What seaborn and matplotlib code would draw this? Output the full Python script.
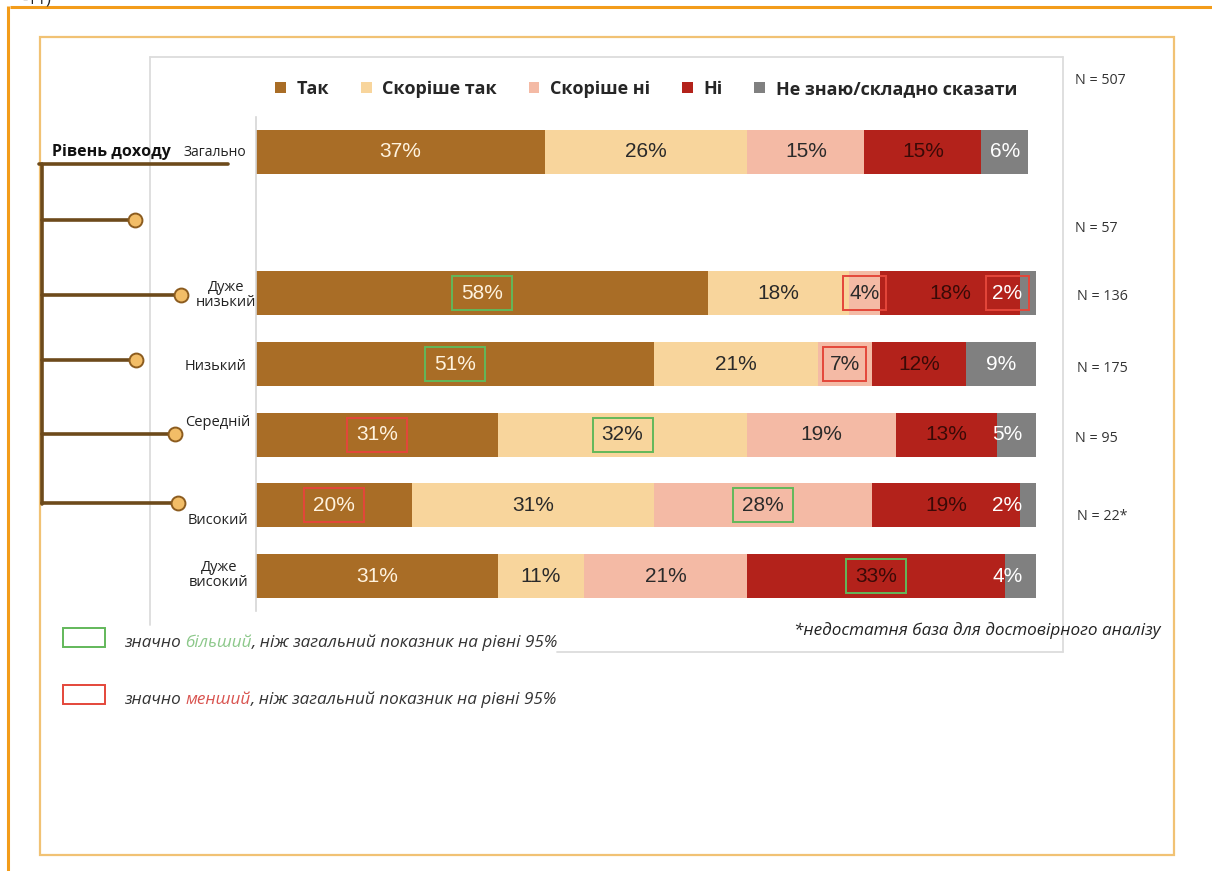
import matplotlib
matplotlib.use("Agg")
import matplotlib.pyplot as plt
from matplotlib.patches import Patch, Rectangle
import numpy as np
import pandas as pd
import seaborn as sns

# ---- data -------------------------------------------------------------
groups = ["Загально", "Дуже низький", "Низький", "Середній", "Високий", "Дуже високий"]
row_order = ["Загально", "", "Дуже низький", "Низький", "Середній", "Високий", "Дуже високий"]
answers = ["Так", "Скоріше так", "Скоріше ні", "Ні", "Не знаю/складно сказати"]
yes = [37, 58, 51, 31, 20, 31]
rather_yes = [26, 18, 21, 32, 31, 11]
rather_no = [15, 4, 7, 19, 28, 21]
no = [15, 18, 12, 13, 19, 33]
dont_know = [6, 2, 9, 5, 2, 4]
sample_sizes = ["N = 507", "N = 57", "N = 136", "N = 175", "N = 95", "N = 22*"]
row_labels = ["Дуже\nнизький", "Низький", "Середній", "Високий", "Дуже\nвисокий"]
higher = [("Дуже низький", "Так"), ("Низький", "Так"), ("Середній", "Скоріше так"),
          ("Високий", "Скоріше ні"), ("Дуже високий", "Ні")]
lower = [("Дуже низький", "Скоріше ні"), ("Дуже низький", "Не знаю/складно сказати"),
         ("Низький", "Скоріше ні"), ("Середній", "Так"), ("Високий", "Так")]

colors = ["#a96d26", "#f8d59c", "#f4baa5", "#b3221b", "#808080"]
value_colors = ["#fff3df", "#2a2a2a", "#2a2a2a", "#3a0a07", "#ffffff"]
GREEN = "#62b85a"
RED = "#e4463a"

sns.set_theme(style="white")
plt.rcParams["font.family"] = ["Open Sans", "DejaVu Sans"]

W, H = 1212, 871
fig = plt.figure(figsize=(W / 100, H / 100), dpi=100)
fig.patch.set_facecolor("white")

# background canvas in pixel units for frames, tree and notes
bg = fig.add_axes([0, 0, 1, 1], zorder=0)
bg.set_xlim(0, W)
bg.set_ylim(H, 0)
bg.axis("off")

# page frames
bg.plot([10, W], [7, 7], color="#f39c1a", lw=2.2, solid_capstyle="butt")
bg.plot([8, 8], [6, H], color="#f39c1a", lw=2.2, solid_capstyle="butt")
bg.add_patch(Rectangle((40, 37), 1134, 818, fill=False, edgecolor="#f1c274", lw=1.6))
bg.text(22, 0, "-11)", fontsize=12, color="#222222", va="center", ha="left")

# chart panel border
pc = "#dcdcdc"
bg.plot([150, 1063], [57, 57], color=pc, lw=1.3)
bg.plot([150, 150], [57, 625], color=pc, lw=1.3)
bg.plot([1063, 1063], [57, 652], color=pc, lw=1.3)
bg.plot([557, 1063], [652, 652], color=pc, lw=1.3)

# tree connector on the left
tc = "#6d4a1b"
bg.plot([42, 42], [164, 504], color=tc, lw=2.6, solid_capstyle="round")
bg.plot([39, 228], [164, 164], color=tc, lw=2.6)
branches = [(220, 135), (295, 181), (360, 136), (434, 175), (503, 178)]
for y, xe in branches:
    bg.plot([42, xe], [y, y], color=tc, lw=2.6)
    bg.plot([xe], [y], marker="o", ms=10, mfc="#f2bd67", mec="#8c5c1f", mew=1.4)

# axis title and group labels
bg.text(52, 152, "Рівень доходу", fontsize=11.5, fontweight="bold", color="#111111",
        ha="left", va="center")
bg.text(184, 153, "Загально", fontsize=10, color="#222222", ha="left", va="center")
label_pos = [(226, 295), (216, 366), (218, 422), (218, 520), (219, 575)]
for txt, (x, y) in zip(row_labels, label_pos):
    bg.text(x, y, txt, fontsize=10.5, color="#222222", ha="center", va="center",
            linespacing=1.05)

# sample sizes
n_pos = [(1075, 80), (1075, 228), (1077, 296), (1077, 368), (1075, 438), (1077, 516)]
for txt, (x, y) in zip(sample_sizes, n_pos):
    bg.text(x, y, txt, fontsize=10.3, color="#333333", ha="left", va="center")

# ---- stacked bars -----------------------------------------------------
df = pd.DataFrame({"group": groups, "Так": yes, "Скоріше так": rather_yes,
                   "Скоріше ні": rather_no, "Ні": no,
                   "Не знаю/складно сказати": dont_know})
cum = df[answers].cumsum(axis=1)

row_px = 70.67
top_px = 152 - row_px / 2
bot_px = 576 + row_px / 2
ax = fig.add_axes([256 / W, 1 - bot_px / H, 780 / W, (bot_px - top_px) / H], zorder=2)
ax.patch.set_alpha(0)

for ans, col in reversed(list(zip(answers, colors))):
    sns.barplot(x=cum[ans], y=df["group"], order=row_order, orient="h", color=col,
                saturation=1, width=0.62, linewidth=0, errorbar=None, ax=ax)

ax.set_xlim(0, 100)
ax.set_ylim(6.5, -0.5)
ax.set_xlabel("")
ax.set_ylabel("")
ax.set_xticks([])
ax.set_yticks([])
for s in ["top", "right", "bottom"]:
    ax.spines[s].set_visible(False)
ax.spines["left"].set_color("#d6d6d6")
ax.spines["left"].set_linewidth(1.2)

flags = {}
for g, a in higher:
    flags[(g, a)] = GREEN
for g, a in lower:
    flags[(g, a)] = RED

for i, g in enumerate(groups):
    yi = row_order.index(g)
    for j, a in enumerate(answers):
        v = df.loc[i, a]
        left = cum.loc[i, a] - v
        xc = min(left + v / 2, 96.3)
        ax.text(xc, yi, f"{v}%", ha="center", va="center", fontsize=15,
                family=["Liberation Sans", "DejaVu Sans"], color=value_colors[j], zorder=5)
        if (g, a) in flags:
            bw = 7.7 if v >= 10 else 5.5
            bh = 0.48
            ax.add_patch(Rectangle((xc - bw / 2, yi - bh / 2), bw, bh, fill=False,
                                   edgecolor=flags[(g, a)], lw=1.4, zorder=6))

# legend
handles = [Patch(facecolor=c, edgecolor="none") for c in colors]
fig.legend(handles, answers, ncol=5, loc="center left",
           bbox_to_anchor=(275 / W, 1 - 89 / H), frameon=False,
           handlelength=0.6, handleheight=0.6, handletextpad=0.6,
           columnspacing=1.75, borderpad=0, borderaxespad=0,
           prop={"family": ["Open Sans", "DejaVu Sans"], "weight": "bold", "size": 13})

# significance notes
def note(x, y, parts, size=11):
    prev = None
    for txt, col in parts:
        if prev is None:
            prev = bg.text(x, y, txt, fontsize=size, style="italic", color=col,
                           ha="left", va="bottom")
        else:
            prev = bg.annotate(txt, xy=(1, 0), xycoords=prev, fontsize=size,
                               style="italic", color=col, ha="left", va="bottom")

bg.add_patch(Rectangle((63, 628), 42, 19, fill=False, edgecolor=GREEN, lw=1.4))
bg.add_patch(Rectangle((63, 685), 42, 19, fill=False, edgecolor=RED, lw=1.4))
note(124, 651, [("значно ", "#333333"), ("більший", "#8cc88a"),
                (", ніж загальний показник на рівні 95%", "#333333")], size=12.3)
note(124, 708, [("значно ", "#333333"), ("менший", "#d9534f"),
                (", ніж загальний показник на рівні 95%", "#333333")], size=12.3)
bg.text(1160, 631, "*недостатня база для достовірного аналізу", fontsize=12.3,
        style="italic", color="#222222", ha="right", va="center")

fig.savefig("out.png", dpi=100, facecolor="white")
